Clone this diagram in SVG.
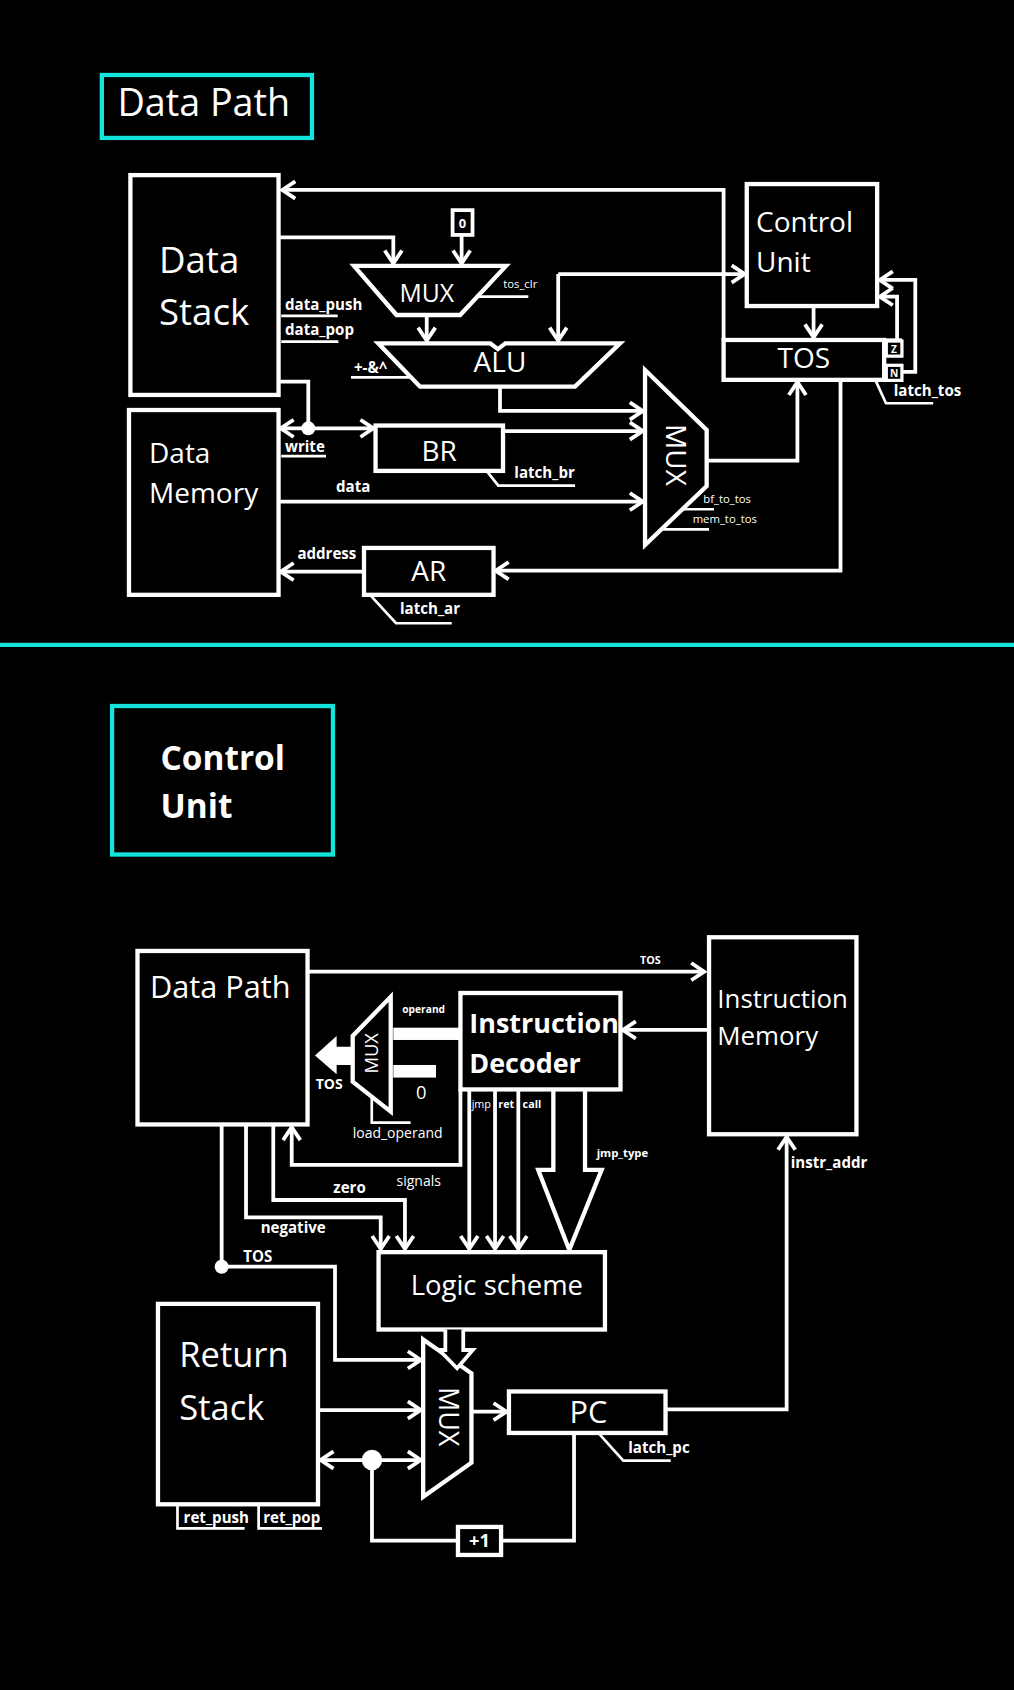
<svg xmlns="http://www.w3.org/2000/svg" width="1014" height="1690" viewBox="0 0 1014 1690">
<defs>
<style>
.b{fill:#000;stroke:#fff;stroke-width:4}
.c{fill:none;stroke:#fff;stroke-width:3.5}
.u{fill:none;stroke:#fff;stroke-width:2.5}
.cy{fill:none;stroke:#14e4dc;stroke-width:4}
text{font-family:"Open Sans","Noto Sans","Liberation Sans",sans-serif;fill:#fff}
.lb{font-weight:bold;font-size:14px}
.sm{font-size:10.5px}
</style>
<marker id="ah" markerUnits="userSpaceOnUse" markerWidth="30" markerHeight="30" viewBox="-15 -15 30 30" refX="0" refY="0" orient="auto">
<path d="M-12,-8 L0,0 L-12,8" fill="none" stroke="#fff" stroke-width="3.5"/>
</marker>
</defs>
<rect x="0" y="0" width="1014" height="1690" fill="#000"/>
<g transform="scale(1.07758)">
<!-- titles -->
<g id="title-datapath">
<rect class="cy" x="94.5" y="69.6" width="195" height="58.4"/>
<text x="109" y="108" font-size="35">Data Path</text>
</g>
<line id="separator" x1="0" y1="598.5" x2="941" y2="598.5" stroke="#14e4dc" stroke-width="4"/>
<g id="title-controlunit">
<rect class="cy" x="104" y="655.2" width="205" height="137.8"/>
<text x="149" y="714.6" font-size="31" font-weight="bold">Control</text>
<text x="149" y="759.4" font-size="31" font-weight="bold">Unit</text>
</g>

<!-- connectors -->
<g id="connectors">
<path class="c" d="M671.5,315.5 V176.3 H262" marker-end="url(#ah)"/>
<path class="c" d="M518,254.3 H691" marker-end="url(#ah)"/>
<path class="c" d="M518,254.3 V316" marker-end="url(#ah)"/>
<path class="c" d="M258.5,220.2 H365 V244.5" marker-end="url(#ah)"/>
<path class="c" d="M428.4,218 V244.5" marker-end="url(#ah)"/>
<path class="c" d="M396,292.3 V316" marker-end="url(#ah)"/>
<path class="c" d="M755,284 V313" marker-end="url(#ah)"/>
<path class="c" d="M832.5,316 V275.3 H816.5" marker-end="url(#ah)"/>
<path class="c" d="M837,345 H849.4 V259.8 H816.5" marker-end="url(#ah)"/>
<path class="c" d="M464,358.8 V381.4 H596.5" marker-end="url(#ah)"/>
<path class="c" d="M466.8,400 H596.5" marker-end="url(#ah)"/>
<path class="c" d="M258.5,465.5 H596.5" marker-end="url(#ah)"/>
<path class="c" d="M655.8,427.5 H740 V354.5" marker-end="url(#ah)"/>
<path class="c" d="M780,352.5 V529.6 H460" marker-end="url(#ah)"/>
<path class="c" d="M337.8,530.5 H260.5" marker-end="url(#ah)"/>
<path class="c" d="M258.5,354.2 H286.1 V397.5"/>
<path class="c" d="M286.1,397.5 H260.5" marker-end="url(#ah)"/>
<path class="c" d="M286.1,397.5 H346.5" marker-end="url(#ah)"/>
<circle cx="286.1" cy="397.5" r="6.5" fill="#fff"/>

<path class="c" d="M285.4,901.7 H653.5" marker-end="url(#ah)"/>
<path class="c" d="M658,955.8 H578" marker-end="url(#ah)"/>
<rect x="365" y="953.7" width="62" height="11.4" fill="#fff"/>
<rect x="365" y="988.3" width="39.6" height="11.7" fill="#fff"/>
<polygon points="327.3,971.3 312.4,971.3 312.4,961.4 292.3,979.5 312.4,997 312.4,988.3 327.3,988.3" fill="#fff"/>
<path class="u" d="M345,1017.7 V1041.8 H381"/>
<path class="c" d="M427.3,1011 V1081 H270.7 V1046" marker-end="url(#ah)"/>
<path class="c" d="M253.6,1043.5 V1113.6 H375.8 V1159" marker-end="url(#ah)"/>
<path class="c" d="M228.3,1043.5 V1129.7 H353.3 V1159" marker-end="url(#ah)"/>
<path class="c" d="M205.7,1043.5 V1175.5 H310.9 V1262 H390.5" marker-end="url(#ah)"/>
<circle cx="205.7" cy="1175.5" r="6.5" fill="#fff"/>
<path class="c" d="M435.5,1011 V1159" marker-end="url(#ah)"/>
<path class="c" d="M459.4,1011 V1159" marker-end="url(#ah)"/>
<path class="c" d="M481,1011 V1159" marker-end="url(#ah)"/>
<polyline points="513.5,1011 513.5,1085.7 499.5,1085.7 528.3,1160 558.3,1085.7 542.9,1085.7 542.9,1011" fill="#000" stroke="#fff" stroke-width="4"/>
<path class="c" d="M295,1308.5 H390.5" marker-end="url(#ah)"/>
<path class="c" d="M437.5,1310 H470" marker-end="url(#ah)"/>
<path class="c" d="M617.6,1308 H730 V1055" marker-end="url(#ah)"/>
<path class="c" d="M345.2,1354.9 H297.5" marker-end="url(#ah)"/>
<path class="c" d="M345.2,1354.9 H390.5" marker-end="url(#ah)"/>
<path class="c" d="M345.2,1354.9 V1429.7 H425"/>
<path class="c" d="M532.7,1329.8 V1429.7 H465"/>
<circle cx="345.2" cy="1354.9" r="9.5" fill="#fff"/>
</g>

<!-- top section nodes -->
<g id="data-stack">
<rect class="b" x="121" y="162.5" width="137.5" height="204"/>
<text x="147.5" y="253.6" font-size="34">Data</text>
<text x="147.5" y="301.6" font-size="34">Stack</text>
<path class="u" d="M261,293.2 H313.4 M261,317.1 H314"/>
<text class="lb" x="264.5" y="287.7">data_push</text>
<text class="lb" x="264.5" y="310.9">data_pop</text>
</g>
<g id="data-memory">
<rect class="b" x="119.7" y="380.5" width="138.8" height="171.5"/>
<text x="138.3" y="429.4" font-size="26">Data</text>
<text x="138.3" y="466.5" font-size="26">Memory</text>
<path class="u" d="M261,423.2 H302.5"/>
<text class="lb" x="264.5" y="419.2">write</text>
<text class="lb" x="311.8" y="456.9">data</text>
<text class="lb" x="276" y="518.7">address</text>
</g>
<g id="zero-const">
<rect x="420" y="195" width="18.5" height="23" fill="#000" stroke="#fff" stroke-width="3.5"/>
<text x="429.2" y="212" font-size="12" font-weight="bold" text-anchor="middle">0</text>
</g>
<g id="mux-top">
<polygon class="b" points="328.5,246.8 469.6,246.8 427,292.3 368,292.3"/>
<text x="396" y="280" font-size="23" text-anchor="middle">MUX</text>
<path class="u" d="M443,275.3 H490.3"/>
<text class="sm" x="467" y="267.5">tos_clr</text>
</g>
<g id="alu">
<path class="b" d="M351,318.6 H455 L462,324 L469,318.6 H575.4 L533.6,358.8 H389.8 Z"/>
<text x="464" y="345" font-size="26" text-anchor="middle">ALU</text>
<path class="u" d="M325.7,350.2 H381"/>
<text class="lb" x="328.5" y="345.9">+-&amp;^</text>
</g>
<g id="control-unit">
<rect class="b" x="693" y="170.8" width="121" height="113.2"/>
<text x="701.6" y="215" font-size="26">Control</text>
<text x="701.6" y="252" font-size="26">Unit</text>
</g>
<g id="tos">
<rect class="b" x="671.5" y="315.5" width="149" height="37"/>
<text x="746" y="341.5" font-size="26" text-anchor="middle">TOS</text>
<rect x="822.5" y="316.5" width="14.5" height="14" fill="#000" stroke="#fff" stroke-width="3"/>
<rect x="822.5" y="339" width="14.5" height="14" fill="#000" stroke="#fff" stroke-width="3"/>
<line x1="820.5" y1="315.5" x2="837" y2="315.5" stroke="#fff" stroke-width="3"/>
<text x="829.7" y="327.5" font-size="9.5" font-weight="bold" text-anchor="middle">Z</text>
<text x="829.7" y="350" font-size="9.5" font-weight="bold" text-anchor="middle">N</text>
<path class="u" d="M812.3,352.5 L822.2,374.2 H866"/>
<text class="lb" x="829.4" y="367.2">latch_tos</text>
</g>
<g id="br">
<rect class="b" x="348.5" y="394.9" width="118.3" height="42.1"/>
<text x="407.5" y="427.5" font-size="26" text-anchor="middle">BR</text>
<path class="u" d="M451.6,437 L462.4,450.7 H533.6"/>
<text class="lb" x="477.3" y="443.3">latch_br</text>
</g>
<g id="mux-big">
<polygon class="b" points="598.6,343.4 655.8,399 655.8,451 598.6,505.8"/>
<text transform="translate(618,422.2) rotate(90)" font-size="26" text-anchor="middle">MUX</text>
<path class="u" d="M633.3,472.6 H662.6 M614,491.2 H658"/>
<text class="sm" x="652.7" y="467.1">bf_to_tos</text>
<text class="sm" x="642.8" y="485">mem_to_tos</text>
</g>
<g id="ar">
<rect class="b" x="337.8" y="508.5" width="120.2" height="43.5"/>
<text x="397.9" y="538.9" font-size="26" text-anchor="middle">AR</text>
<path class="u" d="M343.4,552 L367.5,578.4 H419.2"/>
<text class="lb" x="371.2" y="569.8">latch_ar</text>
</g>

<!-- bottom section nodes -->
<g id="data-path">
<rect class="b" x="127.6" y="882.5" width="157.8" height="161"/>
<text x="139.2" y="926.4" font-size="28.5">Data Path</text>
<text x="293" y="1010.9" font-size="13" font-weight="bold">TOS</text>
<text x="593.9" y="894.9" font-size="10" font-weight="bold">TOS</text>
<text x="368" y="1101" font-size="13">signals</text>
<text class="lb" x="309.3" y="1106.8">zero</text>
<text class="lb" x="241.9" y="1144">negative</text>
<text class="lb" x="225.8" y="1171">TOS</text>
</g>
<g id="instruction-memory">
<rect class="b" x="658" y="869.8" width="136.8" height="182.8"/>
<text x="665.7" y="935.7" font-size="24">Instruction</text>
<text x="665.7" y="969.8" font-size="24">Memory</text>
<text class="lb" x="733.8" y="1084.2">instr_addr</text>
</g>
<g id="instruction-decoder">
<rect class="b" x="427.3" y="921.5" width="148.5" height="89.5"/>
<text x="435.5" y="959" font-size="25" font-weight="bold">Instruction</text>
<text x="435.5" y="996" font-size="25" font-weight="bold">Decoder</text>
<text x="437.7" y="1028" font-size="10">jmp</text>
<text x="462.4" y="1028" font-size="10" font-weight="bold">ret</text>
<text x="485" y="1028" font-size="10" font-weight="bold">call</text>
<text x="553.7" y="1074" font-size="10.5" font-weight="bold">jmp_type</text>
</g>
<g id="mux-operand">
<polygon class="b" points="362.6,925 362.6,1031.6 327.3,1003.8 327.3,961.4"/>
<text transform="translate(350.5,977.5) rotate(-90)" font-size="17" text-anchor="middle">MUX</text>
<text x="373.3" y="939.8" font-size="9.5" font-weight="bold">operand</text>
<text x="386" y="1020" font-size="17">0</text>
<text x="327.3" y="1056.4" font-size="13">load_operand</text>
</g>
<g id="logic-scheme">
<rect class="b" x="351.3" y="1162" width="210.1" height="71.8"/>
<text x="381.1" y="1201.8" font-size="25.5">Logic scheme</text>
</g>
<g id="mux-pc">
<polygon class="b" points="392.7,1243 437.5,1274.4 437.5,1357.4 392.7,1389"/>
<text transform="translate(407.5,1314.7) rotate(90)" font-size="25" text-anchor="middle">MUX</text>
<polyline points="413.3,1233.8 413.3,1252.8 407.6,1252.8 424.2,1269.8 438.8,1252.8 429.9,1252.8 429.9,1233.8" fill="#000" stroke="#fff" stroke-width="3.5"/>
</g>
<g id="return-stack">
<rect class="b" x="146.6" y="1210" width="148.5" height="186"/>
<text x="166.4" y="1268.3" font-size="32">Return</text>
<text x="166.4" y="1317.8" font-size="32">Stack</text>
<path class="u" d="M164.7,1397 V1418.3 H227 M240,1397 V1418.3 H298.8"/>
<text class="lb" x="170.4" y="1413">ret_push</text>
<text class="lb" x="244.3" y="1413">ret_pop</text>
</g>
<g id="pc">
<rect class="b" x="472.3" y="1291.3" width="145.3" height="38.5"/>
<text x="546" y="1320.8" font-size="28.5" text-anchor="middle">PC</text>
<path class="u" d="M555.2,1329.8 L578.4,1355.5 H622.4"/>
<text class="lb" x="583" y="1348">latch_pc</text>
</g>
<g id="plus-one">
<rect class="b" x="425" y="1417" width="40" height="26"/>
<text x="445" y="1436" font-size="17" font-weight="bold" text-anchor="middle">+1</text>
</g>
</g>
</svg>
